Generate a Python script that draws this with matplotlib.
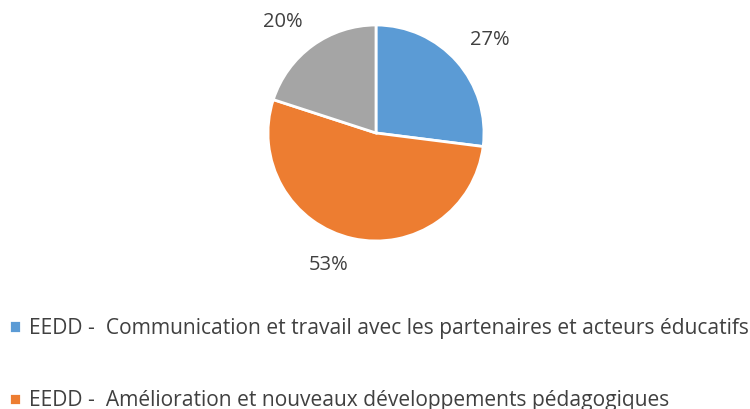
import matplotlib
matplotlib.use("Agg")
import matplotlib.pyplot as plt

labels = [
    "EEDD -  Communication et travail avec les partenaires et acteurs éducatifs",
    "EEDD -  Amélioration et nouveaux développements pédagogiques",
]
values = [27, 53, 20]
colors = ["#5B9BD5", "#ED7D31", "#A5A5A5"]
text_color = "#404040"
pct_labels = [f"{v / sum(values) * 100:.0f}%" for v in values]

plt.rcParams["font.family"] = ["Open Sans", "DejaVu Sans"]

W, H = 750, 409
fig = plt.figure(figsize=(7.5, 4.09), dpi=100)
cx, cy, r = 376, 133, 108
ax = fig.add_axes([(cx - r) / W, (H - cy - r) / H, 2 * r / W, 2 * r / H])

wedges, texts = ax.pie(
    values, colors=colors, startangle=90, counterclock=False,
    labels=pct_labels, labeldistance=1.16,
    wedgeprops=dict(edgecolor="white", linewidth=2.0),
    textprops=dict(color=text_color, fontsize=14.5),
)
for t in texts:
    x, y = t.get_position()
    t.set_va("bottom" if y > 0 else "top")
ax.set_xlim(-1, 1)
ax.set_ylim(-1, 1)
ax.set_aspect("equal")
ax.axis("off")

fig.legend(wedges[:2], labels, loc="upper left",
           bbox_to_anchor=(9 / W, 1 - 318 / H), frameon=False,
           handlelength=0.55, handleheight=0.55, handletextpad=0.4,
           labelspacing=2.45, fontsize=15.1, labelcolor=text_color,
           borderpad=0, borderaxespad=0)

fig.savefig("out.png", dpi=100)
